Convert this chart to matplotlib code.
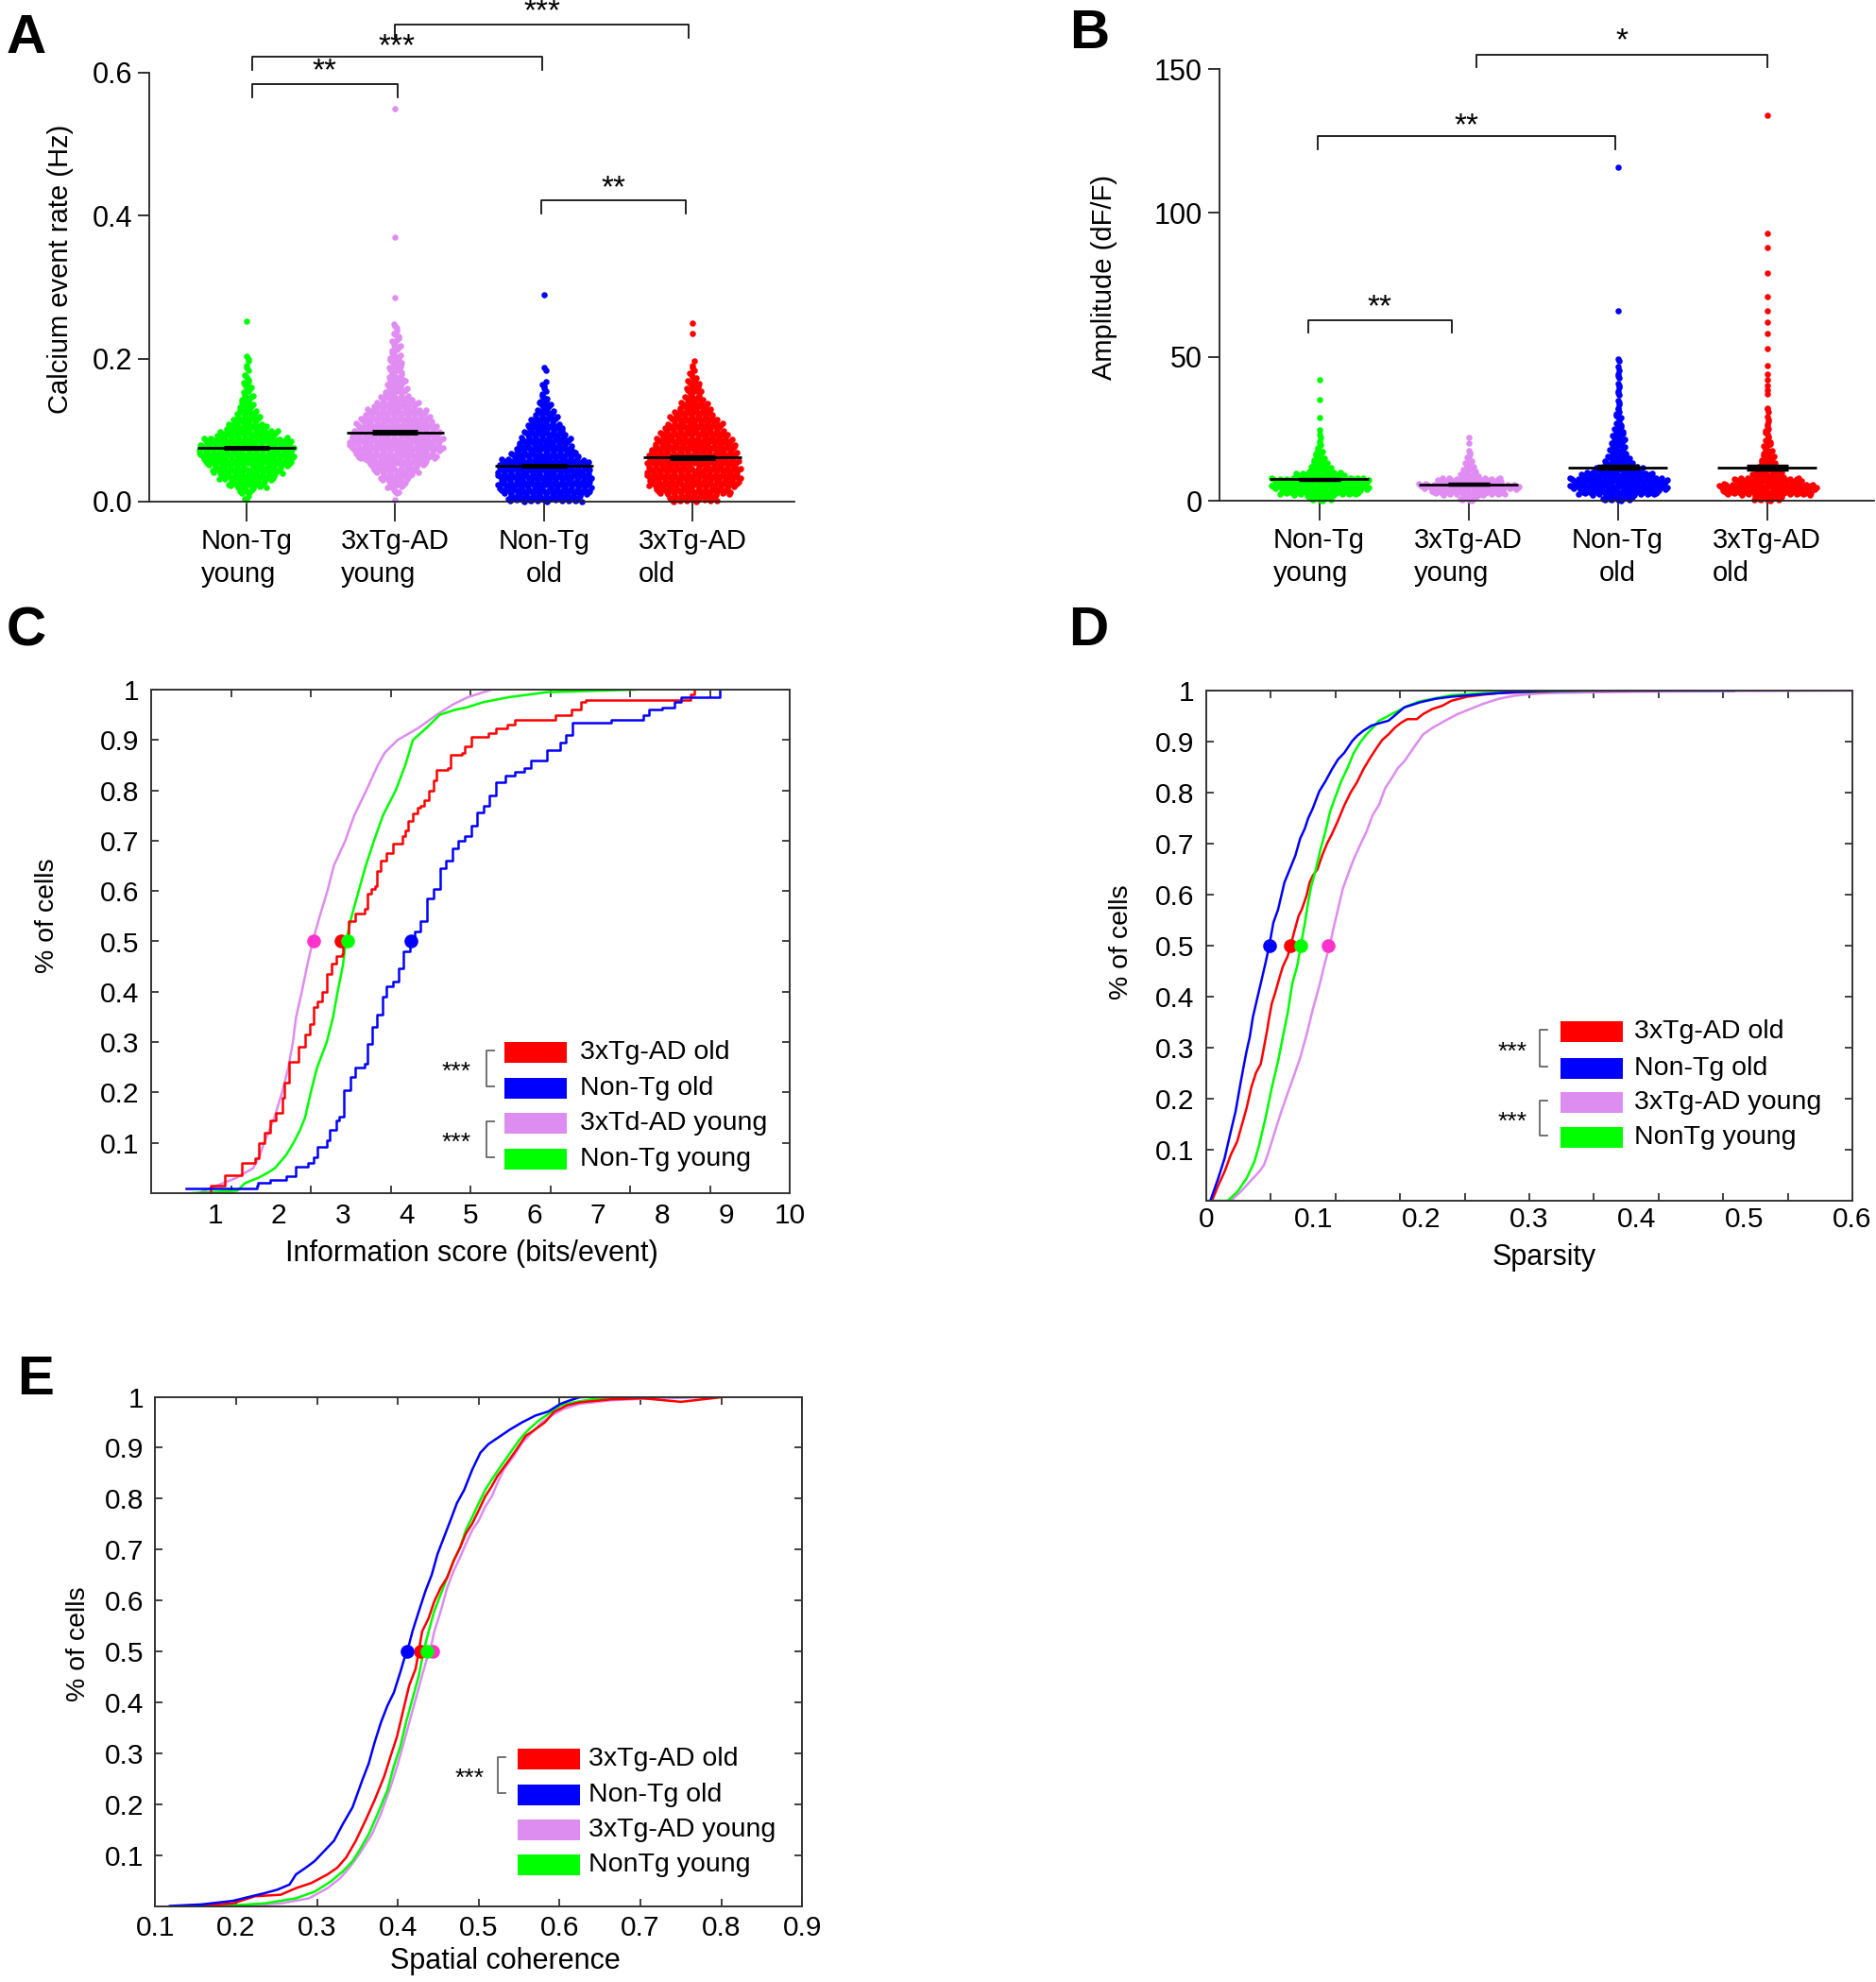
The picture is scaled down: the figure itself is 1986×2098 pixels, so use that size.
import numpy as np
import matplotlib.pyplot as plt
from matplotlib.patches import Rectangle
from matplotlib.lines import Line2D

W, H = 1986, 2098
plt.rcParams['font.family'] = ['Liberation Sans', 'DejaVu Sans']

# ---------------- data ----------------
groups = ['Non-Tg\nyoung', '3xTg-AD\nyoung', 'Non-Tg\nold', '3xTg-AD\nold']
group_align = ['left', 'left', 'center', 'left']
swarm_colors = ['#00FF00', '#E08CF2', '#0000FF', '#FF0000']

# A: calcium event rate, number of cells per 0.01 Hz bin (from 0)
rate_bin = 0.01
rate_counts_ntg_young = [3, 9, 24, 35, 44, 54, 59, 59, 54, 38, 25, 17, 13, 9, 8, 6, 5, 3, 2, 2, 2]
rate_counts_ad_young = [1, 5, 12, 20, 28, 38, 50, 58, 58, 54, 50, 44, 38, 28, 20, 14, 12, 10, 9, 8, 7, 6, 5, 4, 3]
rate_counts_ntg_old = [46, 56, 58, 58, 57, 55, 42, 36, 32, 26, 22, 17, 12, 8, 5, 3, 3, 0, 2]
rate_counts_ad_old = [30, 46, 56, 58, 58, 57, 55, 52, 48, 42, 36, 30, 24, 18, 12, 10, 8, 5, 3, 2]
rate_outliers = [[0.253], [0.285, 0.37, 0.55], [0.29], [0.235, 0.25]]
rate_means = [0.075, 0.097, 0.050, 0.062]
rate_sems = [0.0015, 0.002, 0.0015, 0.002]

# B: amplitude, number of cells per 2 dF/F bin (from 0)
amp_bin = 2.0
amp_counts_ntg_young = [15, 50, 60, 60, 30, 14, 10, 7, 5, 3, 2]
amp_counts_ad_young = [12, 45, 62, 40, 12, 8, 5, 3, 2, 1]
amp_counts_ntg_old = [20, 50, 60, 60, 45, 30, 18, 14, 11, 9, 8, 7, 6, 4, 4, 3, 2, 2, 2, 2, 2, 2, 2, 1, 2]
amp_counts_ad_old = [18, 55, 60, 42, 20, 14, 10, 8, 6, 5, 4, 3, 3, 2, 2, 2, 1]
amp_outliers = [[23, 24.5, 29, 35, 42], [22], [66, 116],
                [37, 38.5, 40, 42, 44, 47, 53, 58, 62, 66, 71, 79, 88, 93, 134]]
amp_means = [7.4, 5.6, 11.5, 11.5]
amp_sems = [0.2, 0.15, 0.5, 0.6]

# C: information score cumulative curves
info_x_red = [0.86, 0.93, 1.15, 1.42, 1.62, 1.69, 1.77, 1.87, 1.96, 2.06, 2.09, 2.16, 2.31, 2.41, 2.48,
              2.55, 2.60, 2.68, 2.75, 2.82, 2.90, 2.99, 3.01, 3.09, 3.19, 3.34, 3.39, 3.44, 3.51, 3.54,
              3.59, 3.68, 3.78, 3.93, 3.98, 4.03, 4.10, 4.17, 4.22, 4.27, 4.35, 4.42, 4.47, 4.64, 4.69,
              4.86, 4.91, 5.01, 5.28, 5.40, 5.57, 5.69, 6.33, 6.58, 6.73, 6.80, 8.45, 8.50]
info_y_red = [0.0, 0.015, 0.035, 0.06, 0.07, 0.1, 0.12, 0.145, 0.16, 0.19, 0.22, 0.26, 0.29, 0.315, 0.335,
              0.37, 0.38, 0.4, 0.435, 0.455, 0.47, 0.475, 0.505, 0.54, 0.555, 0.565, 0.595, 0.605, 0.61, 0.64,
              0.66, 0.675, 0.695, 0.71, 0.72, 0.74, 0.755, 0.765, 0.77, 0.78, 0.8, 0.82, 0.84, 0.845, 0.87,
              0.875, 0.888, 0.907, 0.914, 0.924, 0.93, 0.94, 0.95, 0.96, 0.975, 0.98, 0.99, 1.0]
info_x_blue = [0.54, 1.65, 1.67, 1.87, 2.11, 2.26, 2.46, 2.55, 2.60, 2.75, 2.80, 2.90, 2.95, 3.02, 3.12,
               3.19, 3.34, 3.39, 3.46, 3.54, 3.63, 3.68, 3.78, 3.88, 3.95, 4.05, 4.13, 4.22, 4.32, 4.42,
               4.52, 4.62, 4.72, 4.81, 4.91, 5.01, 5.11, 5.21, 5.30, 5.40, 5.55, 5.70, 5.84, 5.95, 6.20,
               6.40, 6.50, 6.60, 7.20, 7.70, 7.80, 8.00, 8.20, 8.30, 8.90]
info_y_blue = [0.01, 0.015, 0.02, 0.027, 0.033, 0.053, 0.06, 0.072, 0.092, 0.105, 0.125, 0.145, 0.152, 0.205, 0.23,
               0.25, 0.257, 0.296, 0.33, 0.355, 0.39, 0.41, 0.42, 0.447, 0.48, 0.493, 0.52, 0.54, 0.585, 0.605,
               0.645, 0.66, 0.685, 0.7, 0.71, 0.73, 0.757, 0.77, 0.79, 0.816, 0.83, 0.836, 0.845, 0.86, 0.88,
               0.895, 0.91, 0.935, 0.94, 0.95, 0.96, 0.965, 0.975, 0.985, 1.0]
info_x_violet = [0.74, 0.93, 1.13, 1.33, 1.60, 1.70, 1.77, 1.85, 1.93, 2.05, 2.15, 2.22, 2.27, 2.36, 2.44,
                 2.53, 2.64, 2.76, 2.86, 3.04, 3.18, 3.37, 3.55, 3.66, 3.86, 4.20, 4.47, 4.72, 4.96, 5.33]
info_y_violet = [0.0, 0.01, 0.02, 0.03, 0.05, 0.075, 0.1, 0.125, 0.15, 0.2, 0.25, 0.3, 0.35, 0.4, 0.45,
                 0.5, 0.55, 0.6, 0.65, 0.7, 0.75, 0.8, 0.85, 0.875, 0.9, 0.925, 0.95, 0.97, 0.985, 1.0]
info_x_green = [0.64, 1.35, 1.47, 1.67, 1.82, 1.94, 2.11, 2.23, 2.33, 2.41, 2.50, 2.60, 2.75, 2.85, 2.92,
                3.00, 3.05, 3.14, 3.25, 3.36, 3.49, 3.63, 3.83, 3.98, 4.10, 4.32, 4.52, 4.76, 4.95, 5.20,
                5.60, 6.20, 7.60]
info_y_green = [0.0, 0.005, 0.02, 0.03, 0.04, 0.05, 0.075, 0.1, 0.125, 0.15, 0.2, 0.25, 0.3, 0.35, 0.4,
                0.45, 0.5, 0.55, 0.6, 0.65, 0.7, 0.75, 0.8, 0.85, 0.9, 0.925, 0.95, 0.96, 0.965, 0.975,
                0.985, 0.995, 1.0]
info_medians = [2.97, 4.07, 2.55, 3.07]  # red, blue, violet, green

# D: sparsity cumulative curves
spars_x_blue = [0.0038, 0.0111, 0.0170, 0.0228, 0.0272, 0.0316, 0.0345, 0.0375, 0.0404, 0.0433, 0.0477,
                0.0506, 0.0550, 0.0585, 0.0623, 0.0667, 0.0726, 0.0784, 0.0828, 0.0872, 0.0916, 0.0945,
                0.0989, 0.1048, 0.1106, 0.1165, 0.1223, 0.1282, 0.1355, 0.1399, 0.1457, 0.1531, 0.1574,
                0.1692, 0.1750, 0.1838, 0.1984, 0.2131, 0.2277, 0.2569, 0.2862, 0.3096, 0.35, 0.49]
spars_y_blue = [0.0, 0.044, 0.083, 0.136, 0.175, 0.228, 0.261, 0.294, 0.321, 0.360, 0.400,
                0.426, 0.466, 0.5, 0.545, 0.571, 0.624, 0.654, 0.677, 0.710, 0.730, 0.749,
                0.769, 0.802, 0.822, 0.845, 0.865, 0.878, 0.901, 0.911, 0.921, 0.931, 0.934,
                0.941, 0.951, 0.967, 0.977, 0.984, 0.988, 0.993, 0.997, 0.999, 1.0, 1.0]
spars_x_red = [0.0053, 0.0111, 0.0170, 0.0228, 0.0287, 0.0331, 0.0375, 0.0418, 0.0462, 0.0506, 0.0536,
               0.0565, 0.0585, 0.0609, 0.0638, 0.0682, 0.0711, 0.0755, 0.0784, 0.0814, 0.0857, 0.0887,
               0.0931, 0.0960, 0.0989, 0.1033, 0.1077, 0.1121, 0.1165, 0.1223, 0.1282, 0.1340, 0.1399,
               0.1457, 0.1516, 0.1574, 0.1633, 0.1692, 0.1750, 0.1809, 0.1867, 0.1955, 0.2013, 0.2101,
               0.2189, 0.2277, 0.2423, 0.2570, 0.2716, 0.3008, 0.35, 0.42]
spars_y_red = [0.0, 0.030, 0.057, 0.090, 0.116, 0.149, 0.182, 0.222, 0.251, 0.268, 0.301,
               0.334, 0.360, 0.387, 0.406, 0.439, 0.459, 0.479, 0.5, 0.525, 0.558, 0.571,
               0.598, 0.624, 0.637, 0.650, 0.677, 0.700, 0.718, 0.745, 0.775, 0.800, 0.820,
               0.845, 0.866, 0.885, 0.903, 0.914, 0.927, 0.937, 0.944, 0.944, 0.954, 0.964,
               0.970, 0.980, 0.988, 0.992, 0.995, 0.997, 1.0, 1.0]
spars_x_green = [0.0, 0.0199, 0.0287, 0.0375, 0.0448, 0.0492, 0.0550, 0.0609, 0.0667, 0.0711, 0.0755,
                 0.0799, 0.0843, 0.0878, 0.0916, 0.0945, 0.0975, 0.1018, 0.1062, 0.1106, 0.1150, 0.1194,
                 0.1253, 0.1311, 0.1370, 0.1428, 0.1487, 0.1545, 0.1604, 0.1662, 0.1721, 0.1779, 0.1867,
                 0.1984, 0.2131, 0.2277, 0.2570, 0.2862, 0.35, 0.36]
spars_y_green = [0.0, 0.0, 0.017, 0.044, 0.077, 0.110, 0.162, 0.222, 0.274, 0.321, 0.367,
                 0.426, 0.459, 0.5, 0.545, 0.584, 0.617, 0.650, 0.690, 0.723, 0.763, 0.789,
                 0.822, 0.848, 0.878, 0.898, 0.914, 0.927, 0.941, 0.947, 0.954, 0.960, 0.970,
                 0.979, 0.985, 0.991, 0.995, 0.997, 1.0, 1.0]
spars_x_violet = [0.0228, 0.0316, 0.0404, 0.0492, 0.0536, 0.0579, 0.0638, 0.0697, 0.0755, 0.0814, 0.0872,
                  0.0931, 0.0989, 0.1048, 0.1106, 0.1146, 0.1179, 0.1223, 0.1267, 0.1311, 0.1370, 0.1428,
                  0.1487, 0.1545, 0.1604, 0.1662, 0.1721, 0.1779, 0.1838, 0.1926, 0.2013, 0.2101, 0.2218,
                  0.2335, 0.2452, 0.2570, 0.2716, 0.2862, 0.3008, 0.3155, 0.40, 0.60]
spars_y_violet = [0.0, 0.017, 0.037, 0.057, 0.070, 0.096, 0.136, 0.175, 0.210, 0.245, 0.280,
                  0.325, 0.375, 0.420, 0.470, 0.5, 0.532, 0.571, 0.611, 0.637, 0.670, 0.697,
                  0.723, 0.756, 0.776, 0.809, 0.828, 0.848, 0.861, 0.888, 0.914, 0.927, 0.941,
                  0.954, 0.964, 0.974, 0.984, 0.990, 0.993, 0.995, 0.998, 1.0]
spars_medians = [0.078, 0.0585, 0.1135, 0.088]  # red, blue, violet, green

# E: spatial coherence cumulative curves
coh_x_blue = [0.118, 0.157, 0.196, 0.219, 0.235, 0.251, 0.266, 0.274, 0.286, 0.297, 0.309, 0.321, 0.332,
              0.344, 0.356, 0.364, 0.371, 0.379, 0.387, 0.395, 0.403, 0.408, 0.412, 0.418, 0.426, 0.434,
              0.442, 0.449, 0.457, 0.465, 0.473, 0.482, 0.492, 0.502, 0.512, 0.527, 0.539, 0.554, 0.570,
              0.586, 0.601, 0.613, 0.625, 0.644, 0.72]
coh_y_blue = [0.0, 0.003, 0.010, 0.019, 0.025, 0.032, 0.042, 0.062, 0.075, 0.088, 0.108, 0.128, 0.161,
              0.194, 0.247, 0.280, 0.320, 0.360, 0.393, 0.419, 0.459, 0.486, 0.502, 0.539, 0.579, 0.618,
              0.651, 0.691, 0.724, 0.757, 0.791, 0.817, 0.857, 0.890, 0.907, 0.923, 0.936, 0.950, 0.963,
              0.971, 0.986, 0.993, 0.999, 1.0, 1.0]
coh_x_red = [0.149, 0.196, 0.223, 0.255, 0.274, 0.293, 0.313, 0.325, 0.336, 0.348, 0.360, 0.371, 0.383,
             0.391, 0.399, 0.406, 0.414, 0.422, 0.426, 0.430, 0.438, 0.445, 0.453, 0.461, 0.469, 0.477,
             0.484, 0.492, 0.500, 0.508, 0.516, 0.523, 0.535, 0.547, 0.558, 0.570, 0.582, 0.593, 0.609,
             0.625, 0.664, 0.703, 0.75, 0.805]
coh_y_red = [0.0, 0.005, 0.019, 0.022, 0.035, 0.045, 0.062, 0.075, 0.095, 0.128, 0.168, 0.207, 0.254,
             0.294, 0.333, 0.380, 0.433, 0.466, 0.502, 0.539, 0.565, 0.598, 0.625, 0.645, 0.678, 0.704,
             0.731, 0.751, 0.777, 0.804, 0.824, 0.844, 0.870, 0.897, 0.923, 0.936, 0.950, 0.970, 0.983,
             0.989, 0.995, 0.997, 0.99, 1.0]
coh_x_green = [0.184, 0.235, 0.274, 0.297, 0.317, 0.332, 0.344, 0.352, 0.364, 0.375, 0.387, 0.395, 0.403,
               0.410, 0.418, 0.426, 0.432, 0.438, 0.445, 0.453, 0.461, 0.469, 0.477, 0.484, 0.492, 0.500,
               0.508, 0.516, 0.527, 0.539, 0.551, 0.562, 0.574, 0.586, 0.601, 0.617, 0.644, 0.664, 0.72]
coh_y_green = [0.0, 0.005, 0.015, 0.028, 0.048, 0.068, 0.088, 0.108, 0.141, 0.181, 0.227, 0.274, 0.313,
               0.360, 0.406, 0.453, 0.502, 0.539, 0.579, 0.612, 0.645, 0.678, 0.704, 0.738, 0.764, 0.791,
               0.817, 0.837, 0.863, 0.890, 0.917, 0.936, 0.953, 0.966, 0.983, 0.989, 0.996, 0.999, 1.0]
coh_x_violet = [0.204, 0.255, 0.290, 0.313, 0.329, 0.340, 0.352, 0.368, 0.379, 0.391, 0.399, 0.406, 0.414,
                0.422, 0.430, 0.436, 0.440, 0.445, 0.453, 0.461, 0.469, 0.477, 0.484, 0.492, 0.500, 0.508,
                0.516, 0.523, 0.531, 0.543, 0.554, 0.566, 0.578, 0.590, 0.605, 0.625, 0.664, 0.703, 0.80]
coh_y_violet = [0.0, 0.005, 0.015, 0.035, 0.055, 0.075, 0.101, 0.141, 0.181, 0.234, 0.274, 0.313, 0.360,
                0.406, 0.453, 0.486, 0.502, 0.539, 0.579, 0.625, 0.658, 0.685, 0.711, 0.738, 0.757, 0.784,
                0.804, 0.830, 0.857, 0.883, 0.910, 0.930, 0.950, 0.963, 0.976, 0.986, 0.993, 0.996, 1.0]
coh_medians = [0.428, 0.411, 0.443, 0.436]  # red, blue, violet, green

line_colors = ['#FF0000', '#0000FF', '#DD8CF0', '#00FF00']
dot_colors = ['#FF0000', '#0000FF', '#FF33CC', '#00FF00']
legend_c = ['3xTg-AD old', 'Non-Tg old', '3xTd-AD young', 'Non-Tg young']
legend_de = ['3xTg-AD old', 'Non-Tg old', '3xTg-AD young', 'NonTg young']

# ---------------- figure ----------------
fig = plt.figure(figsize=(W / 100, H / 100), dpi=100)


def fx(x):
    return x / W


def fy(y):
    return 1 - y / H


def swarm(ax, pos, bin_w, counts, outliers, color, dx):
    xs, ys = [], []
    for i, n in enumerate(counts):
        lo = i * bin_w
        for j in range(n):
            side = 1 if j % 2 else -1
            xs.append(pos + ((j + 1) // 2) * dx * side)
            ys.append(lo + bin_w * ((j * 0.618034 + 0.31 * i + 0.2) % 1.0))
    xs += [pos] * len(outliers)
    ys += list(outliers)
    ax.scatter(xs, ys, s=22, c=color, linewidths=0, zorder=2, clip_on=False)


def bracket(ax, x0, x1, ytop, ybot, label, ylab, fs=24):
    ax.add_line(Line2D([x0, x0, x1, x1], [ybot, ytop, ytop, ybot], color='#111111', lw=1.3, clip_on=False))
    ax.text((x0 + x1) / 2, ylab, label, ha='center', va='center', fontsize=fs, clip_on=False)


def dot_axes(rect, ylim, yticks, yticklabels):
    ax = fig.add_axes(rect)
    for s in ['top', 'right']:
        ax.spines[s].set_visible(False)
    for s in ['left', 'bottom']:
        ax.spines[s].set_linewidth(1.3)
        ax.spines[s].set_color('#222222')
    ax.set_ylim(*ylim)
    ax.set_yticks(yticks)
    ax.set_yticklabels(yticklabels)
    ax.set_xticks(range(4))
    ax.set_xticklabels(groups)
    for lbl, ma in zip(ax.get_xticklabels(), group_align):
        lbl.set_multialignment(ma)
        lbl.set_linespacing(1.35)
    ax.tick_params(axis='y', direction='out', length=9, width=1.3, pad=4, labelsize=22, colors='#222222',
                   labelcolor='black')
    ax.tick_params(axis='x', direction='out', length=15, width=1.3, pad=5, labelsize=21, colors='#222222',
                   labelcolor='black')
    return ax


# Panel A
ax_a = dot_axes([158 / W, 1 - 531 / H, 683 / W, 454 / H], (0, 0.6), [0, 0.2, 0.4, 0.6],
                ['0.0', '0.2', '0.4', '0.6'])
ax_a.set_xlim(-0.654, 3.683)
rate_counts = [rate_counts_ntg_young, rate_counts_ad_young, rate_counts_ntg_old, rate_counts_ad_old]
for i in range(4):
    swarm(ax_a, i, rate_bin, rate_counts[i], rate_outliers[i], swarm_colors[i], 0.011)
    ax_a.hlines(rate_means[i], i - 0.33, i + 0.33, color='black', lw=2, zorder=3)
    ax_a.errorbar(i, rate_means[i], yerr=rate_sems[i], fmt='none', ecolor='black', elinewidth=2,
                  capsize=17, capthick=2.2, zorder=3)
bracket(ax_a, 0.035, 1.013, 0.584, 0.565, '**', 0.602)
bracket(ax_a, 0.035, 1.99, 0.622, 0.6035, '***', 0.636)
bracket(ax_a, 1.0, 2.97, 0.668, 0.649, '***', 0.685)
bracket(ax_a, 1.98, 2.95, 0.4215, 0.4035, '**', 0.4375)
fig.text(fx(64), fy(285), 'Calcium event rate (Hz)', rotation=90, ha='center', va='center', fontsize=21)

# Panel B
ax_b = dot_axes([1291 / W, 1 - 530 / H, 693 / W, 457 / H], (0, 150), [0, 50, 100, 150],
                ['0', '50', '100', '150'])
ax_b.set_xlim(-0.668, 3.718)
amp_counts = [amp_counts_ntg_young, amp_counts_ad_young, amp_counts_ntg_old, amp_counts_ad_old]
for i in range(4):
    swarm(ax_b, i, amp_bin, amp_counts[i], amp_outliers[i], swarm_colors[i], 0.011)
    ax_b.hlines(amp_means[i], i - 0.33, i + 0.33, color='black', lw=2, zorder=3)
    ax_b.errorbar(i, amp_means[i], yerr=amp_sems[i], fmt='none', ecolor='black', elinewidth=2,
                  capsize=16, capthick=2.5, zorder=3)
bracket(ax_b, 1.055, 3.0, 154.96, 150.7, '*', 159.6)
bracket(ax_b, -0.01, 1.986, 126.6, 122.1, '**', 130.2)
bracket(ax_b, -0.076, 0.89, 62.8, 58.5, '**', 67.0)
fig.text(fx(1169), fy(293), 'Amplitude (dF/F)', rotation=90, ha='center', va='center', fontsize=21)


def cdf_axes(rect, xlim, tick_pos):
    ax = fig.add_axes(rect)
    ax.set_xlim(*xlim)
    ax.set_ylim(0, 1)
    for s in ax.spines.values():
        s.set_linewidth(1.4)
        s.set_color('#333333')
    ax.set_xticks(tick_pos)
    ax.set_yticks([0.1, 0.2, 0.3, 0.4, 0.5, 0.6, 0.7, 0.8, 0.9, 1.0])
    ax.set_yticklabels(['0.1', '0.2', '0.3', '0.4', '0.5', '0.6', '0.7', '0.8', '0.9', '1'])
    ax.tick_params(direction='in', length=6, width=1.3, top=True, right=True, labelsize=21.5,
                   colors='#333333', labelcolor='black', pad=9)
    return ax


def legend_block(rows_y, px0, px1, text_x, labels, star_x, bracket_x, pairs):
    for yc, lab, col in zip(rows_y, labels, line_colors):
        fig.add_artist(Rectangle((fx(px0), fy(yc + 11)), (px1 - px0) / W, 22 / H,
                                 transform=fig.transFigure, color=col, lw=0))
        fig.text(fx(text_x), fy(yc), lab, ha='left', va='center', fontsize=20.5)
    for i0, i1 in pairs:
        y0, y1 = rows_y[i0] - 2, rows_y[i1] - 2
        fig.add_artist(Line2D([fx(bracket_x + 8), fx(bracket_x), fx(bracket_x), fx(bracket_x + 8)],
                              [fy(y0), fy(y0), fy(y1), fy(y1)], transform=fig.transFigure,
                              color='#666666', lw=1.3))
        fig.text(fx(star_x), fy((y0 + y1) / 2 + 4), '***', ha='center', va='center', fontsize=19)


# Panel C
ax_c = cdf_axes([160 / W, 1 - 1263 / H, 676 / W, 533 / H], (0, 10), [1.25 * k for k in range(1, 8)])
ax_c.set_xticklabels([])
ax_c.plot(info_x_violet, info_y_violet, color=line_colors[2], lw=1.8)
ax_c.plot(info_x_green, info_y_green, color=line_colors[3], lw=1.8)
ax_c.plot(info_x_red, info_y_red, color=line_colors[0], lw=1.8, drawstyle='steps-post')
ax_c.plot(info_x_blue, info_y_blue, color=line_colors[1], lw=1.8, drawstyle='steps-post')
for m, c in zip(info_medians, dot_colors):
    ax_c.plot(m, 0.5, 'o', color=c, ms=9.5, zorder=5, clip_on=False)
for v in range(1, 11):
    ax_c.text(v, -0.045, str(v), transform=ax_c.get_xaxis_transform(), ha='center', va='center', fontsize=21.5)
fig.text(fx(499), fy(1327), 'Information score (bits/event)', ha='center', va='center', fontsize=22)
fig.text(fx(50), fy(969), '% of cells', rotation=90, ha='center', va='center', fontsize=20.5)
legend_block([1114, 1152, 1189, 1227], 534, 600, 614, legend_c, 483, 515, [(0, 1), (2, 3)])

# Panel D
ax_d = cdf_axes([1277 / W, 1 - 1271 / H, 684 / W, 540 / H], (0, 0.6), [0.06 * k for k in range(1, 10)])
ax_d.set_xticklabels([])
ax_d.plot(spars_x_violet, spars_y_violet, color=line_colors[2], lw=1.8)
ax_d.plot(spars_x_red, spars_y_red, color=line_colors[0], lw=1.8)
ax_d.plot(spars_x_green, spars_y_green, color=line_colors[3], lw=1.8)
ax_d.plot(spars_x_blue, spars_y_blue, color=line_colors[1], lw=1.8)
for m, c in zip(spars_medians, dot_colors):
    ax_d.plot(m, 0.5, 'o', color=c, ms=9.5, zorder=5, clip_on=False)
for v, s in zip([0, 0.1, 0.2, 0.3, 0.4, 0.5, 0.6], ['0', '0.1', '0.2', '0.3', '0.4', '0.5', '0.6']):
    ax_d.text(v, -0.037, s, transform=ax_d.get_xaxis_transform(), ha='center', va='center', fontsize=21.5)
fig.text(fx(1635), fy(1331), 'Sparsity', ha='center', va='center', fontsize=22)
fig.text(fx(1187), fy(997), '% of cells', rotation=90, ha='center', va='center', fontsize=20.5)
legend_block([1092, 1131, 1167, 1204], 1652, 1718, 1730, legend_de, 1601, 1630, [(0, 1), (2, 3)])

# Panel E
ax_e = cdf_axes([164.4 / W, 1 - 2017.5 / H, 684.8 / W, 539 / H], (0.1, 0.9),
                [0.1, 0.2, 0.3, 0.4, 0.5, 0.6, 0.7, 0.8, 0.9])
ax_e.set_xticklabels(['0.1', '0.2', '0.3', '0.4', '0.5', '0.6', '0.7', '0.8', '0.9'])
ax_e.tick_params(axis='x', pad=7)
ax_e.plot(coh_x_violet, coh_y_violet, color=line_colors[2], lw=1.8)
ax_e.plot(coh_x_green, coh_y_green, color=line_colors[3], lw=1.8)
ax_e.plot(coh_x_red, coh_y_red, color=line_colors[0], lw=1.8)
ax_e.plot(coh_x_blue, coh_y_blue, color=line_colors[1], lw=1.8)
for m, c in zip(coh_medians, dot_colors):
    ax_e.plot(m, 0.5, 'o', color=c, ms=9.5, zorder=5, clip_on=False)
fig.text(fx(535), fy(2076), 'Spatial coherence', ha='center', va='center', fontsize=22)
fig.text(fx(83), fy(1740), '% of cells', rotation=90, ha='center', va='center', fontsize=20.5)
legend_block([1862, 1900, 1937, 1974], 548, 614, 623, legend_de, 497, 527, [(0, 1)])

# panel letters
for letter, x, y in [('A', 28, 41), ('B', 1153, 36), ('C', 28, 668), ('D', 1152, 668), ('E', 38, 1461)]:
    fig.text(fx(x), fy(y), letter, ha='center', va='center', fontsize=42, fontweight='bold')

fig.savefig('out.png', dpi=100)
